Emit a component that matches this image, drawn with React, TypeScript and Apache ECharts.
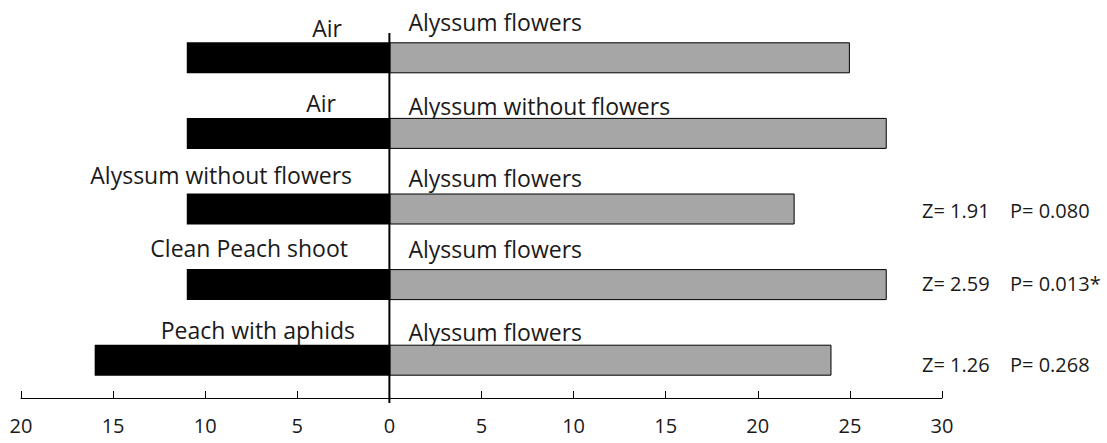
import React, { useEffect, useRef } from "react";
import * as echarts from "echarts";

// ---- data ----
const categories = ["Row1", "Row2", "Row3", "Row4", "Row5"];
const leftLabels = ["Air", "Air", "Alyssum without flowers", "Clean Peach shoot", "Peach with aphids"];
const rightLabels = ["Alyssum flowers", "Alyssum without flowers", "Alyssum flowers", "Alyssum flowers", "Alyssum flowers"];
const leftCounts = [11, 11, 11, 11, 16];
const rightCounts = [25, 27, 22, 27, 24];
const zStats = ["", "", "Z= 1.91", "Z= 2.59", "Z= 1.26"];
const pStats = ["", "", "P= 0.080", "P= 0.013*", "P= 0.268"];

// ---- layout (annotation placement only) ----
const leftLabelRight = [342, 336, 352, 348, 355];
const leftLabelDy = [-14, -15, -19, -21, -15];
const rightLabelDy = [-20, -12, -16, -20, -13];
const statDy = [0, 0, 1.5, -1, 4];

const FONT = "'Open Sans', 'Noto Sans', sans-serif";
const TXT = "#1a1a1a";

export default function App() {
  const ref = useRef<HTMLDivElement>(null);
  useEffect(() => {
    if (!ref.current) return;
    const chart = echarts.init(ref.current, undefined, { renderer: "svg" });
    chart.setOption({
      animation: false,
      backgroundColor: "#ffffff",
      grid: { left: 21, right: 165, top: 20, height: 378 },
      xAxis: {
        type: "value",
        min: -20,
        max: 30,
        interval: 5,
        splitLine: { show: false },
        axisLine: { show: true, onZero: false, lineStyle: { color: "#000", width: 1 } },
        axisTick: { show: true, inside: true, length: 7, lineStyle: { color: "#000", width: 1 } },
        axisLabel: {
          formatter: (v: number) => String(Math.abs(v)),
          fontFamily: FONT,
          fontSize: 20,
          color: TXT,
          margin: 17,
        },
      },
      yAxis: {
        type: "category",
        data: categories,
        inverse: true,
        show: false,
      },
      series: [
        {
          type: "bar",
          data: leftCounts.map((v) => -v),
          barWidth: 31,
          barGap: "-100%",
          itemStyle: { color: "#000000" },
        },
        {
          type: "bar",
          data: rightCounts,
          barWidth: 31,
          barGap: "-100%",
          itemStyle: { color: "#a6a6a6", borderColor: "#000", borderWidth: 1 },
        },
      ],
    });

    const x0 = chart.convertToPixel({ xAxisIndex: 0 }, 0) as number;
    const graphics: any[] = [];
    categories.forEach((c, i) => {
      const cy = chart.convertToPixel({ yAxisIndex: 0 }, i) as number;
      const barTop = cy - 15.5;
      graphics.push({
        type: "text",
        x: leftLabelRight[i],
        y: barTop + leftLabelDy[i],
        style: {
          text: leftLabels[i],
          fontFamily: FONT,
          fontSize: 23,
          fill: TXT,
          textAlign: "right",
          textVerticalAlign: "middle",
        },
      });
      graphics.push({
        type: "text",
        x: x0 + 19,
        y: barTop + rightLabelDy[i],
        style: {
          text: rightLabels[i],
          fontFamily: FONT,
          fontSize: 23,
          fill: TXT,
          textAlign: "left",
          textVerticalAlign: "middle",
        },
      });
      if (zStats[i]) {
        graphics.push({
          type: "text",
          x: 922,
          y: cy + statDy[i],
          style: { text: zStats[i], fontFamily: FONT, fontSize: 20, fill: TXT, textAlign: "left", textVerticalAlign: "middle" },
        });
        graphics.push({
          type: "text",
          x: 1010,
          y: cy + statDy[i],
          style: { text: pStats[i], fontFamily: FONT, fontSize: 20, fill: TXT, textAlign: "left", textVerticalAlign: "middle" },
        });
      }
    });
    graphics.push({
      type: "line",
      shape: { x1: x0, y1: 33, x2: x0, y2: 403 },
      style: { stroke: "#000", lineWidth: 2 },
      z: 10,
    });
    chart.setOption({ graphic: graphics });

    return () => chart.dispose();
  }, []);
  return (
    <div
      ref={ref}
      style={{ position: "fixed", left: 0, top: 0, width: 1107, height: 443 }}
    />
  );
}
